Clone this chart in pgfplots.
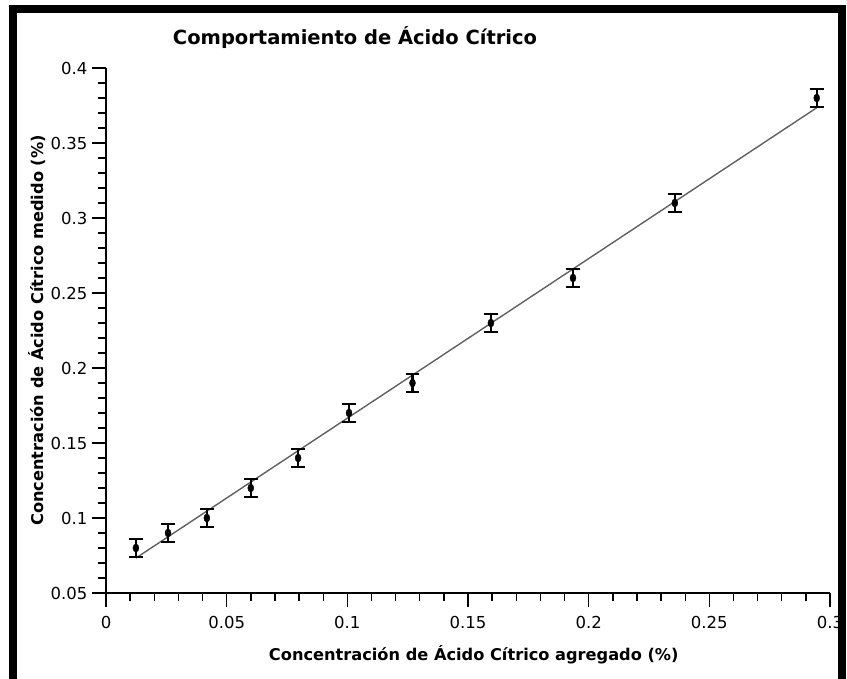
\documentclass[border=0pt]{standalone}
\usepackage{fontspec}
\setmainfont{DejaVu Sans}
\usepackage{pgfplots}
\pgfplotsset{compat=1.18}
\begin{document}
\begin{tikzpicture}
\useasboundingbox (-106bp,-86bp) rectangle (741bp,593bp);
\draw[line width=8bp, black] (-93bp,-90bp) rectangle (736bp,584bp);
\begin{axis}[
  at={(0,0)}, anchor=south west,
  scale only axis, width=724bp, height=525bp,
  xmin=0, xmax=0.3, ymin=0.05, ymax=0.4,
  axis lines*=left,
  axis line style={line width=1.8bp, black},
  xtick={0,0.05,0.1,0.15,0.2,0.25,0.3},
  xticklabels={0,0.05,0.1,0.15,0.2,0.25,0.3},
  ytick={0.05,0.1,0.15,0.2,0.25,0.3,0.35,0.4},
  yticklabels={0.05,0.1,0.15,0.2,0.25,0.3,0.35,0.4},
  minor tick num=4,
  tick align=outside,
  major tick length=14bp, minor tick length=8bp,
  every tick/.style={line width=1.4bp, black},
  /pgf/number format/assume math mode=true,
  ticklabel style={font=\fontsize{16.5bp}{19bp}\selectfont, text=black},
  xticklabel style={yshift=-6bp},
  yticklabel style={xshift=-1bp},
  clip=false,
]
\addplot[gray!75!black, line width=1.4bp] coordinates {(0.0124,0.0733) (0.2945,0.3735)};
\addplot[black, only marks, mark=*, mark size=3bp, mark options={yscale=1.35},
  error bars/.cd, y dir=both, y explicit,
  error bar style={line width=2.2bp, black},
  error mark options={rotate=90, mark size=6.8bp, line width=2bp, black}]
 coordinates {
 (0.0124,0.08) +- (0,0.006)
 (0.0257,0.09) +- (0,0.006)
 (0.0418,0.10) +- (0,0.006)
 (0.0600,0.12) +- (0,0.006)
 (0.0796,0.14) +- (0,0.006)
 (0.1007,0.17) +- (0,0.006)
 (0.1270,0.19) +- (0,0.006)
 (0.1595,0.23) +- (0,0.006)
 (0.1935,0.26) +- (0,0.006)
 (0.2357,0.31) +- (0,0.006)
 (0.2945,0.38) +- (0,0.006)
 };
\node[anchor=base, font=\fontsize{19.5bp}{23bp}\selectfont\bfseries] at ([yshift=23bp]rel axis cs:0.344,1) {Comportamiento de Ácido Cítrico};
\node[anchor=base, font=\fontsize{16.2bp}{19bp}\selectfont\bfseries] at ([yshift=-67bp]rel axis cs:0.508,0) {Concentración de Ácido Cítrico agregado (\%)};
\node[anchor=base, rotate=90, font=\fontsize{16.2bp}{19bp}\selectfont\bfseries] at ([xshift=-62bp]rel axis cs:0,0.5) {Concentración de Ácido Cítrico medido (\%)};
\end{axis}
\end{tikzpicture}
\end{document}
